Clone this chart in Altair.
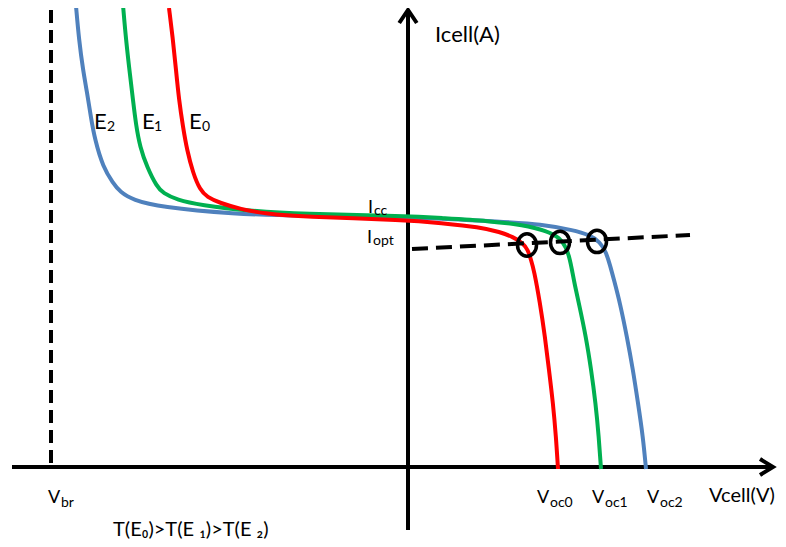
import altair as alt
import pandas as pd

# ---------------- data (arbitrary V / A units) ----------------
# E2 (blue) curve
e2_v = [-8.30, -8.225, -8.125, -8.025, -7.925, -7.825, -7.625, -7.375, -7.20, -6.875, -6.20, -4.375,
        -2.70, 0.0, 2.475, 3.30, 4.125, 4.55, 4.80, 4.95, 5.05, 5.15, 5.30, 5.475, 5.625, 5.75,
        5.875, 5.95]
e2_i = [11.525, 10.675, 9.925, 9.375, 8.725, 8.175, 7.50, 7.10, 6.875, 6.675, 6.50, 6.325,
        6.275, 6.26, 6.125, 6.075, 5.925, 5.80, 5.625, 5.375, 5.05, 4.675, 4.10, 3.25, 2.425, 1.60,
        0.75, -0.05]
# E1 (green) curve
e1_v = [-7.125, -7.05, -6.95, -6.875, -6.80, -6.70, -6.525, -6.275, -6.125, -5.775, -5.20, -3.95,
        -2.70, 0.0, 0.80, 2.05, 2.875, 3.475, 3.80, 3.95, 4.04, 4.10, 4.17, 4.27, 4.45, 4.58,
        4.69, 4.77, 4.825]
e1_i = [11.55, 10.675, 9.80, 9.175, 8.55, 8.00, 7.50, 7.00, 6.85, 6.675, 6.55, 6.40,
        6.325, 6.275, 6.225, 6.15, 6.05, 5.90, 5.725, 5.50, 5.225, 4.925, 4.55, 4.10, 3.25, 2.425,
        1.60, 0.75, -0.05]
# E0 (red) curve
e0_v = [-5.975, -5.875, -5.80, -5.725, -5.625, -5.525, -5.375, -5.20, -5.025, -4.70, -4.20, -3.525,
        -2.70, 0.0, 0.80, 1.80, 2.30, 2.625, 2.875, 3.00, 3.075, 3.15, 3.30, 3.425, 3.525, 3.625,
        3.70, 3.75]
e0_i = [11.475, 10.675, 9.925, 9.175, 8.50, 7.925, 7.35, 6.925, 6.75, 6.60, 6.45, 6.325,
        6.26, 6.175, 6.10, 6.00, 5.875, 5.75, 5.60, 5.425, 5.175, 4.925, 4.10, 3.25, 2.425, 1.60,
        0.75, -0.05]

# optimum points (circles) and the Iopt dashed line
opt_v = [2.975, 3.80, 4.725]
opt_i = [5.55, 5.615, 5.64]
iopt_line_v = [0.10, 7.05]
iopt_line_i = [5.45, 5.80]

# breakdown voltage line
vbr_v = [-8.925, -8.925]
vbr_i = [11.425, 0.0]

# axes and arrow heads
xaxis_v = [-9.9, 9.05]
yaxis_i = [-1.575, 11.35]
xarrow_v = [8.8, 9.125, 8.8]
xarrow_i = [0.2, 0.0, -0.2]
yarrow_v = [-0.22, 0.0, 0.22]
yarrow_i = [11.1, 11.425, 11.1]

# labels
main_text = ["Icell(A)", "Vcell(V)", "E", "E", "E", "I", "I", "V", "V", "V", "V",
             "T(E\u2080)>T(E \u2081)>T(E \u2082)"]
main_v = [0.675, 7.525, -7.85, -6.65, -5.475, -1.0, -1.025, 3.225, 4.6, 5.975, -9.0, -7.375]
main_i = [10.625, -0.875, 8.45, 8.45, 8.45, 6.35, 5.6, -0.9, -0.9, -0.9, -0.9, -1.725]
main_fs = [22, 20, 22, 22, 22, 18, 18, 18, 18, 18, 18, 20]

sub_text = ["2", "1", "0", "cc", "opt", "oc0", "oc1", "oc2", "br"]
sub_v = [-7.525, -6.35, -5.15, -0.85, -0.875, 3.55, 4.925, 6.3, -8.675]
sub_i = [8.4, 8.4, 8.4, 6.3, 5.55, -1.0, -1.0, -1.0, -1.0]
sub_fs = [14, 14, 14, 14, 14, 14, 14, 14, 14]

BLUE = "#4F81BD"
GREEN = "#00B050"
RED = "#FF0000"
FONT = "Lato, 'Noto Sans', sans-serif"

xs = alt.Scale(domain=[-10, 9.25], nice=False, zero=False)
ys = alt.Scale(domain=[-1.8, 11.475], nice=False, zero=False)


def X(f="v"):
    return alt.X(f"{f}:Q", scale=xs, axis=None)


def Y(f="i"):
    return alt.Y(f"{f}:Q", scale=ys, axis=None)


def curve(v, i, color):
    df = pd.DataFrame({"v": v, "i": i})
    return alt.Chart(df).mark_line(color=color, strokeWidth=4, interpolate="basis").encode(
        x=X(), y=Y(), order="v:Q")


vbr = alt.Chart(pd.DataFrame({"v": vbr_v, "i": vbr_i})).mark_line(
    color="black", strokeWidth=4, strokeDash=[13, 7]).encode(x=X(), y=Y())

axes_df = pd.DataFrame({
    "v": [xaxis_v[0], 0.0], "v2": [xaxis_v[1], 0.0],
    "i": [0.0, yaxis_i[0]], "i2": [0.0, yaxis_i[1]],
})
axes = alt.Chart(axes_df).mark_rule(color="black", strokeWidth=4).encode(
    x=X(), x2="v2:Q", y=Y(), y2="i2:Q")

arrow_df = pd.DataFrame({
    "v": xarrow_v + yarrow_v,
    "i": xarrow_i + yarrow_i,
    "k": ["x"] * 3 + ["y"] * 3,
    "o": [0, 1, 2, 0, 1, 2],
})
arrows = alt.Chart(arrow_df).mark_line(color="black", strokeWidth=4, strokeJoin="miter").encode(
    x=X(), y=Y(), detail="k:N", order="o:Q")

iopt = alt.Chart(pd.DataFrame({"v": iopt_line_v, "i": iopt_line_i})).mark_line(
    color="black", strokeWidth=4, strokeDash=[16, 8]).encode(x=X(), y=Y())

ellipse = "M -0.85 0 A 0.85 1 0 1 0 0.85 0 A 0.85 1 0 1 0 -0.85 0 Z"
circles = alt.Chart(pd.DataFrame({"v": opt_v, "i": opt_i})).mark_point(
    shape=ellipse, size=500, filled=False, color="black", strokeWidth=3.5, opacity=1).encode(
    x=X(), y=Y())

main_lbl = alt.Chart(pd.DataFrame({"v": main_v, "i": main_i, "t": main_text, "fs": main_fs})).mark_text(
    align="left", baseline="alphabetic", font=FONT, color="black").encode(
    x=X(), y=Y(), text="t:N", size=alt.Size("fs:Q", scale=None))

sub_lbl = alt.Chart(pd.DataFrame({"v": sub_v, "i": sub_i, "t": sub_text, "fs": sub_fs})).mark_text(
    align="left", baseline="alphabetic", font=FONT, color="black").encode(
    x=X(), y=Y(), text="t:N", size=alt.Size("fs:Q", scale=None))

chart = alt.layer(
    vbr, axes, arrows,
    curve(e2_v, e2_i, BLUE), curve(e1_v, e1_i, GREEN), curve(e0_v, e0_i, RED),
    iopt, circles, main_lbl, sub_lbl,
).properties(width=770, height=531, padding=0, autosize="none").configure_view(stroke=None)

chart.save("out.html", embed_options={"renderer": "svg", "actions": False})
